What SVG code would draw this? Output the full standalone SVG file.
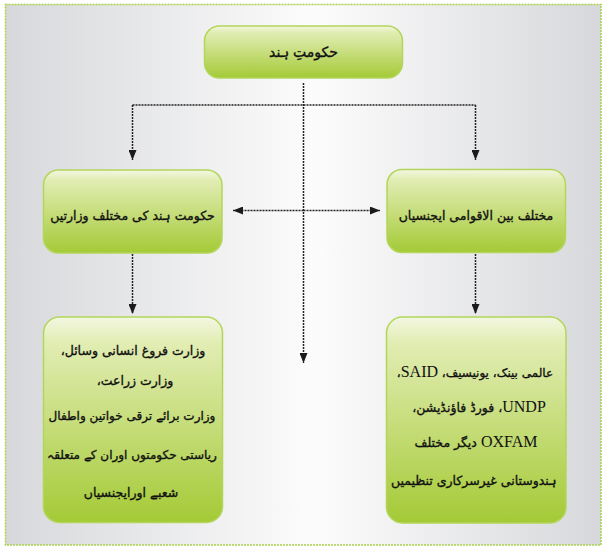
<svg xmlns="http://www.w3.org/2000/svg" width="606" height="551" viewBox="0 0 606 551">
  <defs>
    <linearGradient id="bg" x1="0" y1="0" x2="1" y2="0">
      <stop offset="0" stop-color="#d7d8db"/>
      <stop offset="0.52" stop-color="#fcfcfc"/>
      <stop offset="1" stop-color="#d7d8db"/>
    </linearGradient>
    <linearGradient id="box" x1="0" y1="0" x2="0" y2="1">
      <stop offset="0" stop-color="#f3f7e2"/>
      <stop offset="0.12" stop-color="#e2edb4"/>
      <stop offset="1" stop-color="#a4ca36"/>
    </linearGradient>
    <marker id="ah" markerUnits="userSpaceOnUse" markerWidth="10" markerHeight="8" refX="10" refY="4" orient="auto-start-reverse">
      <path d="M0,0 L10,4 L0,8 Z" fill="#1a1a1a"/>
    </marker>
    <style>
      .frame { fill: url(#bg); stroke: #a9d04c; stroke-width: 1.5; stroke-dasharray: 2 1; }
      .node { fill: url(#box); stroke: #b3d65a; stroke-width: 1.5; }
      .conn { fill: none; stroke: #222; stroke-width: 1.5; stroke-dasharray: 2 1; }
      .arr { marker-end: url(#ah); }
      .ur { font-family: "DejaVu Sans", sans-serif; font-size: 12.5px; fill: #111; stroke: #111; stroke-width: 0.35; text-anchor: middle; direction: rtl; }
      .big { font-size: 14px; }
      .sm { font-size: 12px; }
      .lat { font-family: "Liberation Serif", serif; font-size: 16px; stroke-width: 0; }
    </style>
  </defs>

  <rect class="frame" x="5.5" y="4.5" width="595.5" height="540.5"/>

  <g id="connectors">
    <path class="conn arr" d="M303.5,83 V363"/>
    <path class="conn" d="M132.5,105 H475.5"/>
    <path class="conn arr" d="M132.5,105 V160"/>
    <path class="conn arr" d="M475.5,105 V160"/>
    <path class="conn arr" d="M303.5,210.5 H233"/>
    <path class="conn arr" d="M303.5,210.5 H380"/>
    <path class="conn arr" d="M132.5,254 V314"/>
    <path class="conn arr" d="M475.5,254 V314"/>
  </g>

  <g id="node-govt">
    <rect class="node" x="204.5" y="26" width="198" height="52" rx="15"/>
    <text class="ur big" x="303.5" y="57">حکومتِ ہند</text>
  </g>

  <g id="node-ministries">
    <rect class="node" x="43.5" y="170" width="178.5" height="83" rx="15"/>
    <text class="ur" x="132.5" y="220">حکومت ہند کی مختلف وزارتیں</text>
  </g>

  <g id="node-international">
    <rect class="node" x="387" y="169.5" width="178.5" height="83" rx="15"/>
    <text class="ur" x="476" y="220">مختلف بین الاقوامی ایجنسیاں</text>
  </g>

  <g id="node-ministry-list">
    <rect class="node" x="43.5" y="317" width="179" height="205.5" rx="16"/>
    <text class="ur" x="133" y="355">وزارت فروغ انسانی وسائل،</text>
    <text class="ur" x="135" y="385">وزارت زراعت،</text>
    <text class="ur sm" x="132" y="420">وزارت برائے ترقی خواتین واطفال</text>
    <text class="ur sm" x="132" y="459">ریاستی حکومتوں اوران کے متعلقہ</text>
    <text class="ur" x="131" y="497">شعبے اورایجنسیاں</text>
  </g>

  <g id="node-agency-list">
    <rect class="node" x="386.5" y="317" width="179.5" height="206" rx="16"/>
    <text class="ur sm" x="475" y="377">عالمی بینک، یونیسیف، <tspan class="lat">SAID</tspan>،</text>
    <text class="ur" x="479" y="412"><tspan class="lat">UNDP</tspan>، فورڈ فاؤنڈیشن،</text>
    <text class="ur" x="476" y="447"><tspan class="lat">OXFAM</tspan> دیگر مختلف</text>
    <text class="ur" x="474" y="485">ہندوستانی غیرسرکاری تنظیمیں</text>
  </g>
</svg>
